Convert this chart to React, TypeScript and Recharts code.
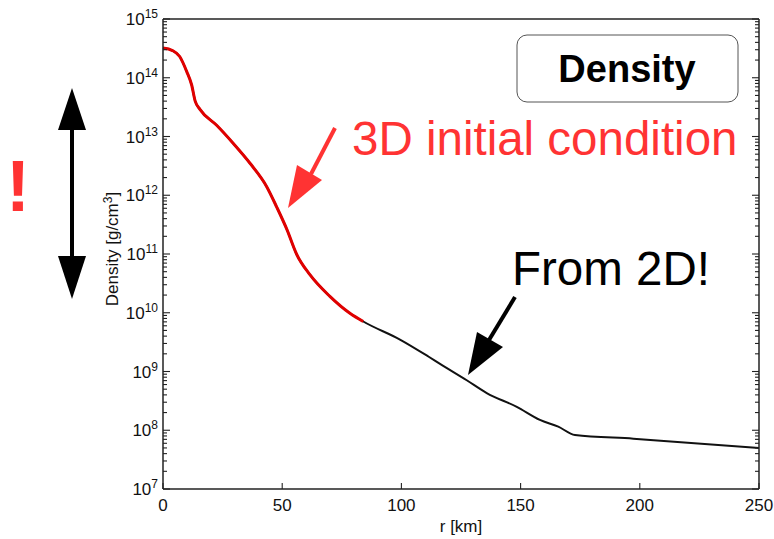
import React from "react";
import { LineChart, Line, XAxis, YAxis } from "recharts";

// r [km]
const radiusKm = [0, 4, 7, 10, 12, 13.5, 15.5, 22.5, 29.5, 36.5, 43.5, 47.7, 52, 56, 61.7, 70, 78.4, 84, 99.4, 111.3, 116.2, 127.4, 135.8, 148.4, 158.1, 165.8, 172.8, 197.3, 250];
// full density profile (black, "From 2D")
const densityFull = [3.2e14, 2.9e14, 2.3e14, 1.26e14, 7.6e13, 4.0e13, 2.9e13, 1.55e13, 7.6e12, 3.5e12, 1.4e12, 6.3e11, 2.6e11, 1.0e11, 4.4e10, 1.9e10, 9.8e9, 7.1e9, 3.5e9, 1.8e9, 1.35e9, 7.1e8, 4.3e8, 2.5e8, 1.5e8, 1.15e8, 8.3e7, 7.2e7, 5.0e7];
// 3D initial condition (red) part
const density3D = [3.2e14, 2.9e14, 2.3e14, 1.26e14, 7.6e13, 4.0e13, 2.9e13, 1.55e13, 7.6e12, 3.5e12, 1.4e12, 6.3e11, 2.6e11, 1.0e11, 4.4e10, 1.9e10, 9.8e9, 7.1e9, null, null, null, null, null, null, null, null, null, null, null];

const xTicks = [0, 50, 100, 150, 200, 250];
const yExponents = [7, 8, 9, 10, 11, 12, 13, 14, 15];

const data = radiusKm.map((r, i) => ({ r, full: densityFull[i], d3: density3D[i] }));

const allYTicks: number[] = [];
yExponents.forEach((e) => {
  allYTicks.push(Math.pow(10, e));
  if (e < 15) for (let m = 2; m <= 9; m++) allYTicks.push(m * Math.pow(10, e));
});

const FONT = "'Liberation Sans', Arial, Helvetica, sans-serif";
const AX = "#222";

const isMajor = (v: number) => {
  const e = Math.round(Math.log10(v));
  return Math.abs(v - Math.pow(10, e)) / v < 1e-6;
};

const LeftTick = (props: any) => {
  const { x, y, payload } = props;
  const v = payload.value;
  const e = Math.round(Math.log10(v));
  const major = isMajor(v);
  return (
    <g>
      <path d={`M${x},${y}h${major ? 7 : 4}`} stroke={AX} strokeWidth={1.1} fill="none" />
      {major && (
        <text x={x - 5} y={y + 6} textAnchor="end" fontSize={17} fontFamily={FONT} fill="#111">
          10
          <tspan dy={-7} fontSize={12}>{e}</tspan>
        </text>
      )}
    </g>
  );
};

const RightTick = (props: any) => {
  const { x, y, payload } = props;
  const major = isMajor(payload.value);
  return <path d={`M${x - (major ? 7 : 4)},${y}H${x}`} stroke={AX} strokeWidth={1.1} fill="none" />;
};

const BottomLabel = (props: any) => {
  const { x, y, payload } = props;
  return (
    <text x={x} y={y + 22} textAnchor="middle" fontSize={17} fontFamily={FONT} fill="#111">
      {payload.value}
    </text>
  );
};

export default function App() {
  return (
    <div style={{ position: "absolute", left: 0, top: 0, width: 774, height: 539, background: "#fff" }}>
      <LineChart width={774} height={539} data={data} margin={{ top: 18, right: 14, bottom: 0, left: 0 }}>
        <XAxis
          xAxisId="b"
          dataKey="r"
          type="number"
          domain={[0, 250]}
          ticks={xTicks}
          orientation="bottom"
          height={50}
          tickSize={-6}
          tickMargin={6}
          tickLine={{ stroke: AX, strokeWidth: 1.1 }}
          tick={<BottomLabel />}
          axisLine={{ stroke: AX, strokeWidth: 1.5 }}
          interval={0}
        />
        <XAxis
          xAxisId="t"
          dataKey="r"
          type="number"
          domain={[0, 250]}
          ticks={xTicks}
          orientation="top"
          height={1}
          tickSize={-6}
          tickMargin={0}
          tickLine={{ stroke: AX, strokeWidth: 1.1 }}
          tick={false}
          axisLine={{ stroke: AX, strokeWidth: 1.5 }}
          interval={0}
        />
        <YAxis
          yAxisId="l"
          scale="log"
          domain={[1e7, 1e15]}
          allowDataOverflow
          ticks={allYTicks}
          width={163}
          tickSize={0}
          tickMargin={0}
          tickLine={false}
          tick={<LeftTick />}
          axisLine={{ stroke: AX, strokeWidth: 1.5 }}
          interval={0}
          type="number"
        />
        <YAxis
          yAxisId="r"
          orientation="right"
          scale="log"
          domain={[1e7, 1e15]}
          allowDataOverflow
          ticks={allYTicks}
          width={1}
          tickSize={0}
          tickMargin={0}
          tickLine={false}
          tick={<RightTick />}
          axisLine={{ stroke: AX, strokeWidth: 1.5 }}
          interval={0}
          type="number"
        />
        <Line xAxisId="b" yAxisId="l" dataKey="full" type="monotone" stroke="#111" strokeWidth={2} dot={false} isAnimationActive={false} />
        <Line xAxisId="b" yAxisId="l" dataKey="d3" type="monotone" stroke="#e00000" strokeWidth={3} dot={false} connectNulls={false} isAnimationActive={false} />
      </LineChart>
      <svg width={774} height={539} style={{ position: "absolute", left: 0, top: 0, pointerEvents: "none" }} fontFamily={FONT}>
        <text x={461} y={532} textAnchor="middle" fontSize={17} fill="#111">r [km]</text>
        <text transform="translate(118,249) rotate(-90)" textAnchor="middle" fontSize={17} fill="#111">
          Density [g/cm
          <tspan dy={-6} fontSize={12}>3</tspan>
          <tspan dy={6}>]</tspan>
        </text>
        <rect x={517} y={35} width={221} height={67} rx={10} ry={10} fill="#fff" stroke="#555" strokeWidth={1} />
        <text x={627} y={82} textAnchor="middle" fontSize={38} fontWeight="bold" fill="#000">Density</text>
        <text x={18} y={211} textAnchor="middle" fontSize={72} fontWeight="bold" fill="#ff3333">!</text>
        <line x1={72} y1={125} x2={72} y2={262} stroke="#000" strokeWidth={4} />
        <polygon points="72,88 58,130 86,130" fill="#000" />
        <polygon points="72,299 58,256 86,256" fill="#000" />
        <line x1={335} y1={128} x2={311} y2={174} stroke="#ff3333" strokeWidth={4} />
        <polygon points="288,208 297,165 322,180" fill="#ff3333" />
        <text x={352} y={155} fontSize={47.5} fill="#ff3333">3D initial condition</text>
        <line x1={515} y1={297} x2={489} y2={340} stroke="#000" strokeWidth={4} />
        <polygon points="468,375 477,332 503,347" fill="#000" />
        <text x={512} y={285} fontSize={47.5} fill="#000">From 2D!</text>
      </svg>
    </div>
  );
}
